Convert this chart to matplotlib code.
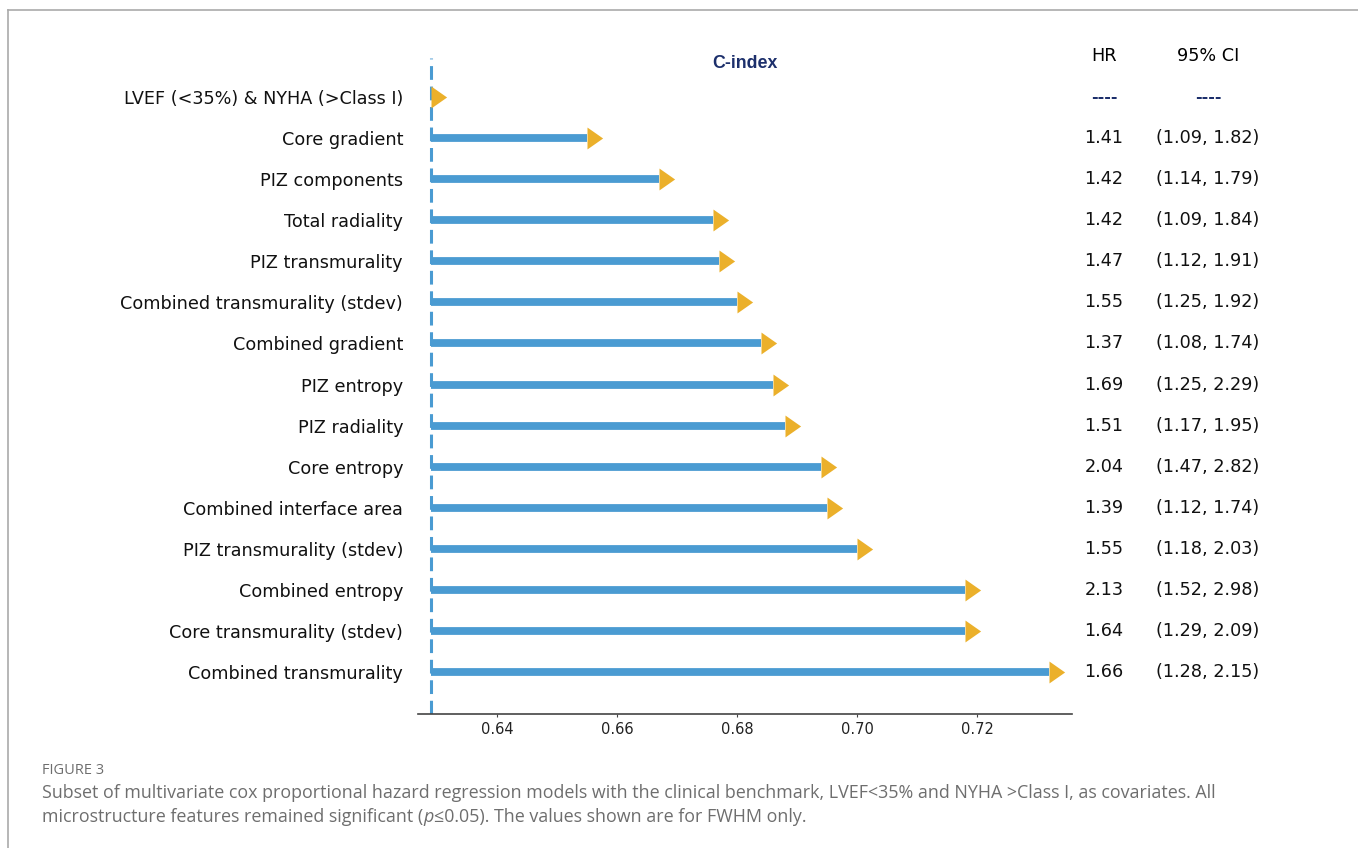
import matplotlib
matplotlib.use("Agg")
import matplotlib.pyplot as plt
from matplotlib.lines import Line2D

# C-index per model (value = base of the arrow head)
features = [
    "LVEF (<35%) & NYHA (>Class I)",
    "Core gradient",
    "PIZ components",
    "Total radiality",
    "PIZ transmurality",
    "Combined transmurality (stdev)",
    "Combined gradient",
    "PIZ entropy",
    "PIZ radiality",
    "Core entropy",
    "Combined interface area",
    "PIZ transmurality (stdev)",
    "Combined entropy",
    "Core transmurality (stdev)",
    "Combined transmurality",
]
c_index = [0.629, 0.655, 0.667, 0.676, 0.677, 0.680, 0.684, 0.686,
           0.688, 0.694, 0.695, 0.700, 0.718, 0.718, 0.732]
hr = ["----", "1.41", "1.42", "1.42", "1.47", "1.55", "1.37", "1.69",
      "1.51", "2.04", "1.39", "1.55", "2.13", "1.64", "1.66"]
ci = ["----", "(1.09, 1.82)", "(1.14, 1.79)", "(1.09, 1.84)", "(1.12, 1.91)",
      "(1.25, 1.92)", "(1.08, 1.74)", "(1.25, 2.29)", "(1.17, 1.95)",
      "(1.47, 2.82)", "(1.12, 1.74)", "(1.18, 2.03)", "(1.52, 2.98)",
      "(1.29, 2.09)", "(1.28, 2.15)"]
baseline = 0.629
xticks = [0.64, 0.66, 0.68, 0.70, 0.72]

BLUE = "#4A9BD2"
GOLD = "#EBB02B"
NAVY = "#1C2F6B"
GRAY = "#6E6E6E"

fig = plt.figure(figsize=(13.58, 8.48), dpi=100)
ax = fig.add_axes([418 / 1358, 1 - 714 / 848, 654 / 1358, 656 / 848])

ys = list(range(len(features)))
ax.hlines(ys, baseline, c_index, color=BLUE, linewidth=5.6, zorder=2)
# arrow head with its base on the value
head = [(0, -0.7), (0, 0.7), (1, 0), (0, -0.7)]
ax.plot(c_index, ys, linestyle="none", marker=head, markersize=22.5,
        color=GOLD, markeredgewidth=0, zorder=3)
ax.axvline(baseline, color=BLUE, linewidth=2.2, linestyle=(0, (4.5, 2.2)), zorder=1)

ax.set_xlim(0.6268, 0.7358)
ax.set_ylim(15.02, -0.95)
ax.set_xticks(xticks)
ax.set_xticklabels([f"{t:.2f}" for t in xticks], fontsize=10.5, color="#222222")
ax.set_yticks(ys)
ax.set_yticklabels(features, fontsize=12.7, color="#111111")
ax.tick_params(axis="y", length=0, pad=10.8)
ax.tick_params(axis="x", length=2.2, color="#444444", pad=3.5)
ax.spines[["top", "right", "left"]].set_visible(False)
ax.spines["bottom"].set_color("#444444")
ax.spines["bottom"].set_linewidth(1.2)

ax.text(0.5, -0.82, "C-index", transform=ax.get_yaxis_transform(), ha="center",
        va="center", fontsize=12.8, fontweight="bold", color=NAVY,
        family=["Liberation Sans", "DejaVu Sans"])

hr_x = (1104 - 418) / 654
ci_x = (1208 - 418) / 654
tr = ax.get_yaxis_transform()
ax.text(hr_x, -1.0, "HR", transform=tr, ha="center", va="center", fontsize=12.7)
ax.text(ci_x, -1.0, "95% CI", transform=tr, ha="center", va="center", fontsize=12.7)
for y, h, c in zip(ys, hr, ci):
    if h == "----":
        kw = dict(color=NAVY, fontweight="bold", fontsize=11.5)
    else:
        kw = dict(color="#111111", fontsize=12.7)
    ax.text(hr_x, y, h, transform=tr, ha="center", va="center", clip_on=False, **kw)
    ax.text(ci_x, y, c, transform=tr, ha="center", va="center", clip_on=False, **kw)

# page frame
fig.add_artist(Line2D([8 / 1358, 1], [1 - 10 / 848] * 2, color="#AAAAAA", linewidth=1.2))
fig.add_artist(Line2D([8 / 1358] * 2, [0, 1 - 10 / 848], color="#AAAAAA", linewidth=1.2))

# caption
cap_font = ["Open Sans", "DejaVu Sans"]
fig.text(42 / 1358, 1 - 770 / 848, "FIGURE 3", fontsize=10.5, color=GRAY,
         family=cap_font, va="center")
fig.text(42 / 1358, 1 - 793 / 848,
         "Subset of multivariate cox proportional hazard regression models with the clinical "
         "benchmark, LVEF<35% and NYHA >Class I, as covariates. All",
         fontsize=12.9, color=GRAY, family=cap_font, va="center")
fig.canvas.draw()
r = fig.canvas.get_renderer()
x0 = 42 / 1358
y2 = 1 - 817 / 848
parts = [("microstructure features remained significant (", "normal"),
         ("p", "italic"),
         ("≤0.05). The values shown are for FWHM only.", "normal")]
for s, st in parts:
    t = fig.text(x0, y2, s, fontsize=12.9, color=GRAY, family=cap_font,
                 style=st, va="center")
    bb = t.get_window_extent(renderer=r)
    x0 += bb.width / fig.bbox.width

fig.savefig("out.png", dpi=100)
